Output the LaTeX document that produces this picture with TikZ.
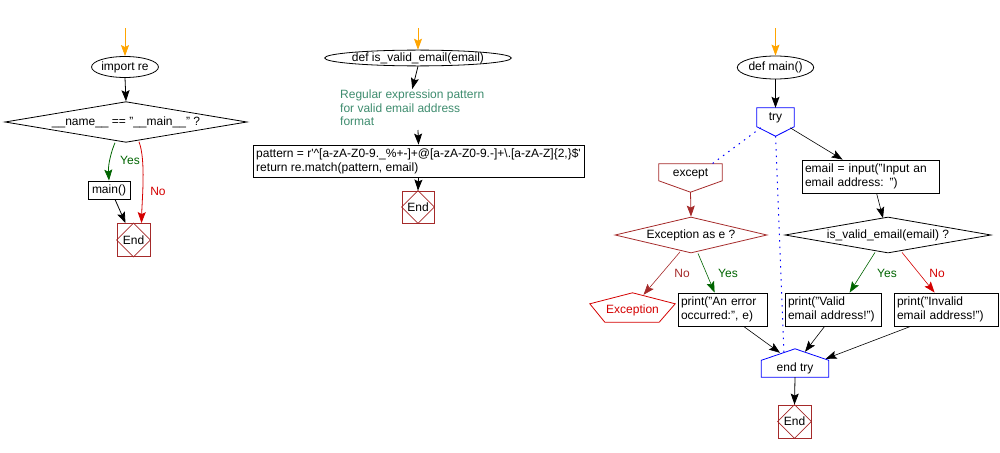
\documentclass[tikz,border=0pt]{standalone}
\usepackage{fontspec}
\setmainfont{Liberation Sans}
\usetikzlibrary{shapes.geometric,arrows.meta,calc}
\definecolor{orng}{HTML}{FFA500}
\definecolor{brwn}{HTML}{A52A2A}
\definecolor{dgreen}{HTML}{006400}
\definecolor{nored}{HTML}{D40000}
\definecolor{cmt}{HTML}{3E8C6E}
\definecolor{tryblue}{HTML}{0000FF}
\newcommand{\fs}{\fontsize{12}{14}\selectfont}
\tikzset{
  every node/.style={font=\fs, inner sep=0pt},
  arr/.style={-{Stealth[length=11pt,width=8pt,inset=2pt]}, line width=0.8pt},
  startarr/.style={arr, draw=orng},
  oval/.style={ellipse, draw, line width=0.8pt},
  cond/.style={diamond, draw, line width=0.8pt, aspect=5},
  stmt/.style={draw, line width=0.8pt, align=left, inner sep=3pt, minimum height=33pt},
  endbox/.style={draw=brwn, line width=0.8pt, minimum width=33pt, minimum height=33pt},
  ghost/.style={draw=none},
  lbl/.style={anchor=center},
  dots/.style={draw=tryblue, line width=1pt, dash pattern=on 1.5pt off 5pt},
}
\newcommand{\finmark}[1]{\draw[brwn, line width=0.8pt] (#1.north) -- (#1.east) -- (#1.south) -- (#1.west) -- cycle;}
\begin{document}
\begin{tikzpicture}[x=1pt,y=-1pt]
\useasboundingbox (0,0) rectangle (1000,452);
% ---------- left ----------
\coordinate (s1) at (125,28);
\node[oval, minimum width=65pt, minimum height=21pt] (imp) at (125,67) {import re};
\node[cond, minimum width=242pt, minimum height=38pt] (d1) at (126,122) {\_\_name\_\_ == "\_\_main\_\_" ?};
\node[stmt, minimum width=42pt, minimum height=18pt, align=center] (m1) at (109,190) {main()};
\node[endbox] (e1) at (133.5,240) {End};
\finmark{e1}
\draw[startarr] (s1) -- (imp.north);
\draw[arr] (imp.south) -- (d1.north);
\draw[arr, draw=dgreen] ($(d1.south)+(-11,0)$) .. controls (111,152) and (108,165) .. (m1.north);
\draw[arr, draw=nored] ($(d1.south)+(13,-1)$) .. controls (146,160) and (142,200) .. ($(e1.north)+(8,0)$);
\draw[arr] ($(m1.south)+(6,0)$) -- ($(e1.north)+(-8,0)$);
\node[lbl, text=dgreen] (y1) at (130,160) {Yes};
\node[lbl, text=nored] (n1) at (158,191) {No};
% ---------- middle ----------
\coordinate (s2) at (418,28);
\node[oval, minimum width=155pt, minimum height=15pt, inner sep=0pt] (dv) at (418,58) {def is\_valid\_email(email)};
\node[anchor=west, align=left, text=cmt, font=\fontsize{12}{13.4}\selectfont] (cm) at (340,108) {Regular expression pattern\\for valid email address\\format};
\coordinate (cmb) at (418,130);
\node[stmt, minimum width=331pt, minimum height=32pt, inner sep=2pt] (pt) at (418.5,161) {pattern = r\textquotesingle\textasciicircum[a-zA-Z0-9.\_\%+-]+@[a-zA-Z0-9.-]+\textbackslash.[a-zA-Z]\{2,\}\$\textquotesingle\\return re.match(pattern, email)};
\node[endbox, minimum width=32pt, minimum height=32pt] (e2) at (418,207) {End};
\finmark{e2}
\draw[startarr] (s2) -- (dv.north);
\draw[arr] (dv.south) -- ($(cm.north)+(0,-1)$ -| dv.south);
\draw[arr] (cmb) -- (pt.north);
\draw[arr] (pt.south) -- (e2.north);
% ---------- right ----------
\coordinate (s3) at (775.5,28);
\node[oval, minimum width=72pt, minimum height=23pt] (dm) at (775.5,67.5) {def main()};
\node[ghost, minimum width=37pt, minimum height=28pt] (try) at (775.5,122) {};
\draw[tryblue, line width=0.8pt] (try.north west) -- (try.north east) -- ($(try.north east)+(0,19)$) -- (try.south) -- ($(try.north west)+(0,19)$) -- cycle;
\node (tryt) at (775.5,118) {try};
\node[stmt, text width=131pt] (em) at (870.5,176.5) {email = input("Input an\\email address: ")};
\node[ghost, minimum width=63pt, minimum height=28pt] (ex) at (690.5,178) {};
\draw[brwn, line width=0.8pt] (ex.north west) -- (ex.north east) -- ($(ex.north east)+(0,17)$) -- (ex.south) -- ($(ex.north west)+(0,17)$) -- cycle;
\node (ext) at (690.5,174) {except};
\node[cond, draw=brwn, minimum width=152pt, minimum height=36pt] (d2) at (691,235) {Exception as e ?};
\node[cond, minimum width=206pt, minimum height=36pt] (d3) at (888,235) {is\_valid\_email(email) ?};
\node[ghost, minimum width=85pt, minimum height=29pt] (exc) at (632.5,307.5) {};
\draw[nored, line width=0.8pt] (exc.north) -- ($(exc.north east)+(0,11)$) -- ($(exc.south east)+(-16,0)$) -- ($(exc.south west)+(15,0)$) -- ($(exc.north west)+(0,11)$) -- cycle;
\node[text=nored] (exct) at (632.5,310) {Exception};
\node[stmt, text width=83pt] (pe) at (722.5,309.5) {print("An error\\occurred:", e)};
\node[stmt, text width=90pt] (pv) at (833,309.5) {print("Valid\\email address!")};
\node[stmt, text width=98pt] (pi) at (946,309.5) {print("Invalid\\email address!")};
\node[ghost, minimum width=67pt, minimum height=28pt] (et) at (795,363) {};
\draw[tryblue, line width=0.8pt] (et.north) -- ($(et.north east)+(0,11.5)$) -- (et.south east) -- (et.south west) -- ($(et.north west)+(0,11.5)$) -- cycle;
\node (ett) at (795,368) {end try};
\node[endbox] (e3) at (794.5,421.5) {End};
\finmark{e3}
\draw[startarr] (s3) -- (dm.north);
\draw[arr] (dm.south) -- (try.north);
\draw[arr, line width=0.6pt] ($(try.north east)+(-4,20)$) -- ($(em.north west)+(41,0)$);
\draw[dots] ($(try.north west)+(4,20)$) -- ($(ex.north east)+(-10,0)$);
\draw[dots] (try.south) -- ($(et.north)+(-11,4)$);
\draw[arr, draw=brwn] (ex.south) -- (d2.north);
\draw[arr, line width=0.6pt] ($(em.south west)+(75,0)$) -- ($(d3.north)+(-5,1.5)$);
\draw[arr, draw=brwn, line width=0.6pt] ($(d2.south)+(-11,-1.5)$) -- ($(exc.north)+(11,2)$);
\draw[arr, draw=dgreen, line width=0.6pt] ($(d2.south)+(7,0)$) -- ($(pe.north west)+(37,0)$);
\draw[arr, draw=dgreen, line width=0.6pt] ($(d3.south)+(-13,-1)$) -- ($(pv.north west)+(65,0)$);
\draw[arr, draw=nored, line width=0.6pt] ($(d3.south)+(14,-1)$) -- ($(pi.north west)+(41,0)$);
\draw[arr, line width=0.6pt] ($(pe.south west)+(66,0)$) -- ($(et.north)+(-15,4)$);
\draw[arr, line width=0.6pt] ($(pv.south west)+(40,0)$) -- ($(et.north)+(10,3)$);
\draw[arr, line width=0.6pt] ($(pi.south west)+(17,0)$) -- ($(et.north east)+(-3,10)$);
\draw[arr] (et.south) -- (e3.north);
\node[lbl, text=brwn] (n2) at (682,273) {No};
\node[lbl, text=dgreen] (y2) at (728,273) {Yes};
\node[lbl, text=dgreen] (y3) at (887,273) {Yes};
\node[lbl, text=nored] (n3) at (937,273) {No};
\end{tikzpicture}
\end{document}
